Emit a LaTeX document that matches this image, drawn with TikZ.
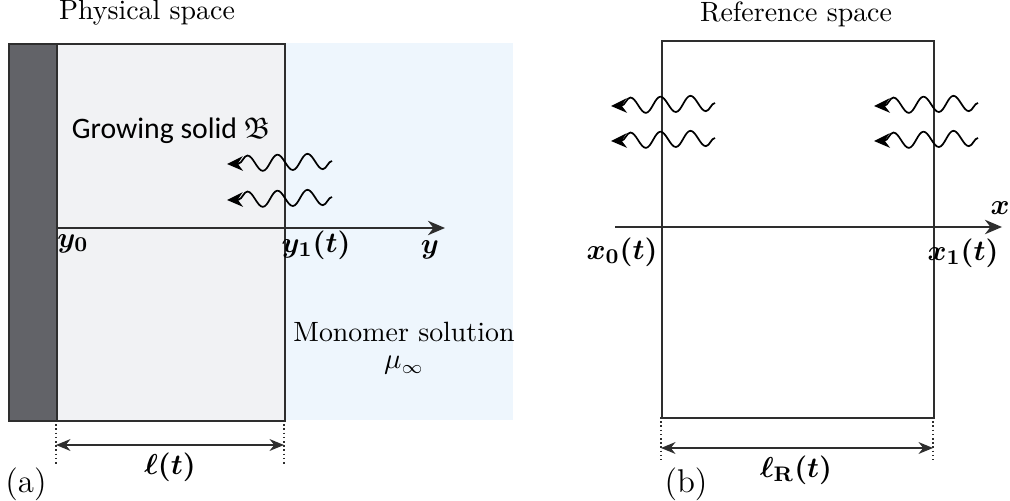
\documentclass[tikz,border=0pt]{standalone}
\usepackage{amsmath,amssymb,bm}
\usepackage{fontspec}
\newfontfamily\humsans{Carlito}
\usetikzlibrary{arrows.meta,decorations.pathmorphing}
\definecolor{solnblue}{HTML}{EEF6FD}
\definecolor{wallgray}{HTML}{626368}
\definecolor{solidgray}{HTML}{F1F2F4}
\definecolor{edge}{HTML}{2E2E2E}
\tikzset{
  edgeline/.style={draw=edge, line width=0.6pt},
  axisline/.style={draw=edge, line width=0.6pt, -{Stealth[length=6.5pt,width=5.5pt]}},
  wavy/.style={draw=black, line width=0.65pt, -{Stealth[length=6pt,width=5.5pt]},
    decorate, decoration={snake, amplitude=3pt, segment length=11.4pt, post length=3.5pt}},
  dimline/.style={draw=edge, line width=0.6pt, {Stealth[length=5.5pt,width=4.5pt]}-{Stealth[length=5.5pt,width=4.5pt]}},
  dotline/.style={draw=edge, line width=0.6pt, densely dotted},
  lbl/.style={inner sep=0pt, font=\fontsize{10.6}{12.7}\selectfont},
  mlbl/.style={inner sep=0pt, font=\fontsize{11}{12}\selectfont},
  panel/.style={inner sep=0pt, font=\fontsize{12.5}{14}\selectfont}
}
\begin{document}
\begin{tikzpicture}[x=0.38pt,y=-0.38pt]
\useasboundingbox (0,0) rectangle (1010,501);
% ---- left panel ----
\fill[solnblue] (56,43) rectangle (513,420);
\node[edgeline, fill=wallgray, minimum width=48*0.38pt, minimum height=377*0.38pt, inner sep=0pt, anchor=north west] (wall) at (8,43) {};
\node[edgeline, fill=solidgray, minimum width=228*0.38pt, minimum height=377*0.38pt, inner sep=0pt, anchor=north west] (solid) at (56,43) {};
\node[lbl] (ptitle) at (147,13) {Physical space};
\node[inner sep=0pt, font=\humsans\fontsize{11.3}{13}\selectfont] (grow) at (171,131) {Growing solid $\mathfrak{B}$};
\node[lbl, align=center, anchor=north] (mono) at (404,322) {Monomer solution\\[-2.5pt]$\mu_\infty$};
\coordinate (ya) at (56,228);
\coordinate (yb) at (445,228);
\draw[axisline] (ya) -- (yb);
\node[mlbl] (y0) at (73,244) {$\bm{y_0}$};
\node[mlbl] (y1) at (316,245) {$\bm{y_1(t)}$};
\node[mlbl] (y) at (430,250) {$\bm{y}$};
\coordinate (w1s) at (332,161);
\coordinate (w1e) at (227,164);
\coordinate (w2s) at (332,197);
\coordinate (w2e) at (227,200);
\draw[wavy] (w1s) -- (w1e);
\draw[wavy] (w2s) -- (w2e);
\coordinate (da1) at (56,420);
\coordinate (da2) at (56,466);
\coordinate (db1) at (284,420);
\coordinate (db2) at (284,466);
\draw[dotline] (da1) -- (da2);
\draw[dotline] (db1) -- (db2);
\coordinate (la) at (56,445);
\coordinate (lb) at (284,445);
\draw[dimline] (la) -- (lb);
\node[mlbl] (ell) at (170,467) {$\bm{\ell(t)}$};
\node[panel] (a) at (26,484) {(a)};
% ---- right panel ----
\node[edgeline, minimum width=272*0.38pt, minimum height=377*0.38pt, inner sep=0pt, anchor=north west] (ref) at (661,40) {};
\node[lbl] (rtitle) at (796,14) {Reference space};
\coordinate (xa) at (615,227);
\coordinate (xb) at (1002,227);
\draw[axisline] (xa) -- (xb);
\node[mlbl] (x) at (1000,208) {$\bm{x}$};
\node[mlbl] (x0) at (622,252) {$\bm{x_0(t)}$};
\node[mlbl] (x1) at (963,253) {$\bm{x_1(t)}$};
\coordinate (r1s) at (715,103);
\coordinate (r1e) at (611,106);
\coordinate (r2s) at (715,138);
\coordinate (r2e) at (611,141);
\coordinate (r3s) at (978,103);
\coordinate (r3e) at (874,106);
\coordinate (r4s) at (978,138);
\coordinate (r4e) at (874,141);
\draw[wavy] (r1s) -- (r1e);
\draw[wavy] (r2s) -- (r2e);
\draw[wavy] (r3s) -- (r3e);
\draw[wavy] (r4s) -- (r4e);
\coordinate (dc1) at (661,417);
\coordinate (dc2) at (661,460);
\coordinate (dd1) at (933,417);
\coordinate (dd2) at (933,460);
\draw[dotline] (dc1) -- (dc2);
\draw[dotline] (dd1) -- (dd2);
\coordinate (lc) at (661,448);
\coordinate (ld) at (933,448);
\draw[dimline] (lc) -- (ld);
\node[mlbl] (ellR) at (796,470) {$\bm{\ell_{\mathbf{R}}(t)}$};
\node[panel] (b) at (686,484) {(b)};
\end{tikzpicture}
\end{document}
